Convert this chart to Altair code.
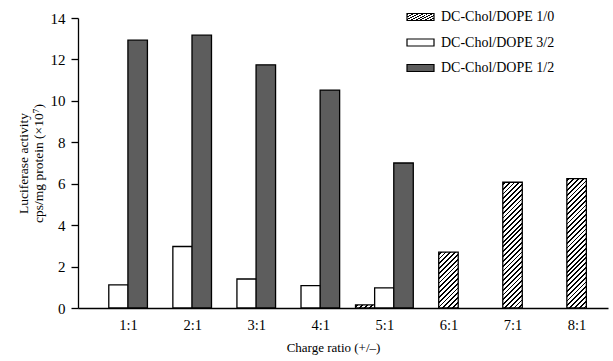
import math

import altair as alt
import pandas as pd

# ---- data -------------------------------------------------------------
ratios = ["1:1", "2:1", "3:1", "4:1", "5:1", "6:1", "7:1", "8:1"]
series_names = ["DC-Chol/DOPE 1/0", "DC-Chol/DOPE 3/2", "DC-Chol/DOPE 1/2"]
dc_1_0 = [None, None, None, None, 0.15, 2.70, 6.07, 6.25]
dc_3_2 = [1.12, 2.97, 1.40, 1.08, 0.97, None, None, None]
dc_1_2 = [12.93, 13.17, 11.74, 10.52, 7.00, None, None, None]
y_ticks = [0, 2, 4, 6, 8, 10, 12, 14]

# ---- layout -----------------------------------------------------------
W, H = 530, 290
Y_MAX = 14
PX_PER_UNIT = H / Y_MAX
X_DOMAIN = [-0.704, 7.412]
UNIT_PX = W / (X_DOMAIN[1] - X_DOMAIN[0])
BAR_PX = 19.5
BAR_STEP = BAR_PX / UNIT_PX
SERIF = "Liberation Serif"
DARK = "#5d5d5d"


def hatch(w, h, period=3.4, line_frac=0.38):
    """Diagonal '///' hatching as a linear gradient in bounding-box units."""
    s = (1 / h + 1 / w) / (1 / h ** 2 + 1 / w ** 2)
    length = (w + h) / math.sqrt(2)
    n = length / period
    stops = [{"offset": 0, "color": "white"}]
    k = 0.3
    while k < n:
        a = k / n
        b = min((k + line_frac) / n, 1.0)
        stops += [
            {"offset": round(a, 5), "color": "white"},
            {"offset": round(a, 5), "color": "black"},
            {"offset": round(b, 5), "color": "black"},
            {"offset": round(b, 5), "color": "white"},
        ]
        k += 1
    stops.append({"offset": 1, "color": "white"})
    return {"gradient": "linear", "x1": 0, "y1": 0,
            "x2": round(s / h, 5), "y2": round(s / w, 5), "stops": stops}


# one row per drawn bar; bars present in a group sit side by side, centred
rows = []
for gi, ratio in enumerate(ratios):
    present = [(name, vals[gi]) for name, vals in
               zip(series_names, [dc_1_0, dc_3_2, dc_1_2]) if vals[gi] is not None]
    n = len(present)
    for rank, (name, v) in enumerate(present):
        rows.append({
            "ratio": ratio, "series": name, "value": v,
            "key": f"{ratio}|{name}",
            "pos": gi + (rank - (n - 1) / 2) * BAR_STEP,
        })
bars_df = pd.DataFrame(rows)

# hatched bars get their own gradient, sized to the bar
hatch_conditions = [
    {"test": f"datum.key === '{r['key']}'",
     "value": hatch(BAR_PX, max(r["value"] * PX_PER_UNIT, 1.0))}
    for r in rows if r["series"] == series_names[0]
]

fill_scale = {"domain": series_names, "range": ["#ffffff", "#ffffff", DARK]}

label_expr = "[" + ",".join(f"'{r}'" for r in ratios) + "][datum.value]"

bars = alt.Chart(bars_df).mark_bar(
    width=BAR_PX, stroke="black", strokeWidth=1.3
).encode(
    x=alt.X("pos:Q",
            scale=alt.Scale(domain=X_DOMAIN, nice=False, zero=False),
            axis=alt.Axis(values=list(range(len(ratios))), labelExpr=label_expr,
                          ticks=False, grid=False, title="Charge ratio (+/\u2013)",
                          labelFont=SERIF, labelFontSize=14.5, labelPadding=10,
                          labelColor="black", titleFont=SERIF, titleFontSize=13,
                          titleFontWeight="normal", titleColor="black",
                          titlePadding=10, titleX=255,
                          domainColor="black", domainWidth=1.3)),
    y=alt.Y("value:Q",
            scale=alt.Scale(domain=[0, Y_MAX], nice=False),
            axis=alt.Axis(values=y_ticks, grid=False, tickSize=7, tickWidth=1.3,
                          tickColor="black", domainColor="black", domainWidth=1.3,
                          labelFont=SERIF, labelFontSize=15, labelColor="black",
                          labelPadding=6,
                          title=["Luciferase activity", "cps/mg protein (\u00d710\u2077)"],
                          titleFont=SERIF, titleFontSize=13.5, titleFontWeight="normal",
                          titleColor="black", titlePadding=5, titleLineHeight=15)),
    fill={"field": "series", "type": "nominal", "scale": fill_scale,
          "legend": None, "condition": hatch_conditions},
)

# legend drawn as its own small layer in the upper right
legend_df = pd.DataFrame({"series": series_names})
legend_y = alt.Y("series:N", scale=alt.Scale(domain=series_names, type="point",
                                             range=[-1, 50], padding=0), axis=None)

swatches = alt.Chart(legend_df).mark_point(
    shape="M-1,-0.26H1V0.26H-1Z", size=729, filled=True, opacity=1,
    stroke="black", strokeWidth=1.2
).encode(
    x=alt.value(342.5),
    y=legend_y,
    fill={"field": "series", "type": "nominal", "scale": fill_scale, "legend": None,
          "condition": {"test": f"datum.series === '{series_names[0]}'",
                        "value": hatch(27, 14)}},
)

legend_text = alt.Chart(legend_df).mark_text(
    align="left", baseline="middle", font=SERIF, fontSize=14, color="black"
).encode(
    x=alt.value(363),
    y=legend_y,
    text="series:N",
)

chart = alt.layer(bars, swatches, legend_text).resolve_scale(
    y="independent"
).properties(
    width=W, height=H,
    padding={"left": 78, "top": 18, "right": 5, "bottom": 53},
    autosize="none",
).configure_view(stroke=None)

chart.save("out.html", embed_options={"renderer": "svg", "actions": False})
